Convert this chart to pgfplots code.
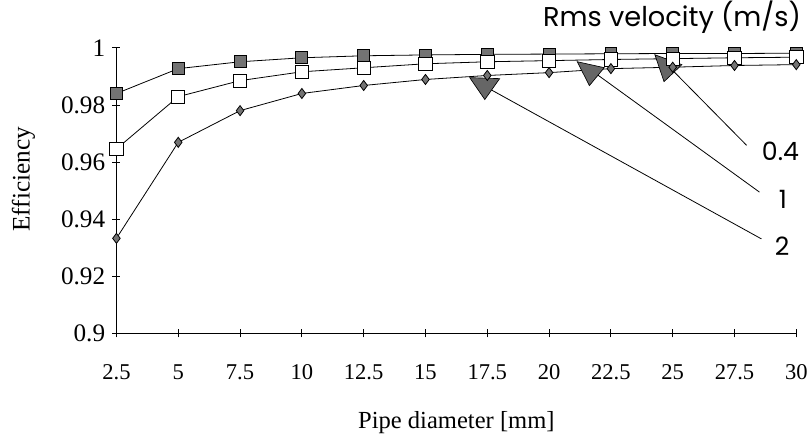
\documentclass[border=0pt]{standalone}
\usepackage{fontspec}
\setmainfont{Liberation Serif}
\newfontfamily\gothic{Poppins}
\usepackage{pgfplots}
\pgfplotsset{compat=1.18}

\begin{document}
\begin{tikzpicture}
\begin{axis}[
    name=ax,
    scale only axis,
    width=512.25pt, height=215.25pt,
    xmin=2.5, xmax=30,
    ymin=0.9, ymax=1,
    axis lines*=left,
    clip=false,
    xtick={2.5,5,7.5,10,12.5,15,17.5,20,22.5,25,27.5,30},
    ytick={0.9,0.92,0.94,0.96,0.98,1},
    tick align=center,
    major tick length=6pt,
    tick style={black, line width=0.6pt},
    axis line style={black, line width=0.8pt},
    /pgf/number format/assume math mode=true,
    yticklabel style={font=\fontsize{19}{22}\selectfont, xshift=-2pt},
    xticklabel style={font=\fontsize{17}{20}\selectfont, yshift=-17pt},
    y tick label style={/pgf/number format/fixed},
    ylabel={Efficiency},
    xlabel={Pipe diameter [mm]},
    every axis y label/.style={at={(axis description cs:0,0.54)}, xshift=-70pt, rotate=90, anchor=center, font=\fontsize{19}{22}\selectfont},
    every axis x label/.style={at={(axis description cs:0.5,0)}, yshift=-67pt, anchor=center, font=\fontsize{18.5}{22}\selectfont},
]
% Rms velocity 0.4 m/s
\addplot[black, line width=0.6pt, mark=square*, mark size=4.5pt,
    mark options={fill=black!55, draw=black, line width=0.6pt}] coordinates {
    (2.5,0.9840)(5,0.9927)(7.5,0.9951)(10,0.9965)(12.5,0.9972)(15,0.9975)
    (17.5,0.9977)(20,0.9978)(22.5,0.9979)(25,0.9980)(27.5,0.9980)(30,0.9981)};
% Rms velocity 1 m/s
\addplot[black, line width=0.6pt, mark=square*, mark size=5pt,
    mark options={fill=white, draw=black, line width=0.6pt}] coordinates {
    (2.5,0.9646)(5,0.9829)(7.5,0.9885)(10,0.9916)(12.5,0.9930)(15,0.9944)
    (17.5,0.9951)(20,0.9955)(22.5,0.9959)(25,0.9962)(27.5,0.9965)(30,0.9967)};
% Rms velocity 2 m/s
\addplot[black, line width=0.6pt, mark=diamond*, mark size=3.8pt,
    mark options={fill=black!55, draw=black, line width=0.6pt}] coordinates {
    (2.5,0.9333)(5,0.9669)(7.5,0.9780)(10,0.9840)(12.5,0.9868)(15,0.9889)
    (17.5,0.9903)(20,0.9913)(22.5,0.9927)(25,0.9932)(27.5,0.9938)(30,0.9941)};

% callouts
\draw[black, line width=0.6pt] (axis cs:17.64,0.98537) -- (axis cs:28.59,0.93310);
\draw[black, line width=0.6pt] (axis cs:21.95,0.99059) -- (axis cs:28.51,0.94948);
\draw[black, line width=0.6pt] (axis cs:25.05,0.99164) -- (axis cs:27.99,0.96585);
\filldraw[fill=black!60, draw=black, line width=0.5pt]
    (axis cs:16.79,0.98955) -- (axis cs:18.00,0.98920) -- (axis cs:17.40,0.98188) -- cycle;
\filldraw[fill=black!60, draw=black, line width=0.5pt]
    (axis cs:21.14,0.99512) -- (axis cs:22.23,0.99303) -- (axis cs:21.63,0.98676) -- cycle;
\filldraw[fill=black!60, draw=black, line width=0.5pt]
    (axis cs:24.28,0.99756) -- (axis cs:25.37,0.99408) -- (axis cs:24.65,0.98815) -- cycle;

\node[anchor=west, inner sep=0pt, font=\gothic\fontsize{19}{22}\selectfont] at (axis cs:28.6,0.96376) {0.4};
\node[anchor=west, inner sep=0pt, font=\gothic\fontsize{19}{22}\selectfont] at (axis cs:29.28,0.94704) {1};
\node[anchor=west, inner sep=0pt, font=\gothic\fontsize{19}{22}\selectfont] at (axis cs:29.12,0.93066) {2};
\node[anchor=west, inner sep=0pt, font=\gothic\fontsize{20.5}{24}\selectfont] at (axis cs:19.75,1.0108) {Rms velocity (m/s)};
\end{axis}
\path[use as bounding box] ([xshift=-87.75pt,yshift=-81pt]ax.south west) rectangle ([xshift=9pt,yshift=36pt]ax.north east);
\end{tikzpicture}
\end{document}
